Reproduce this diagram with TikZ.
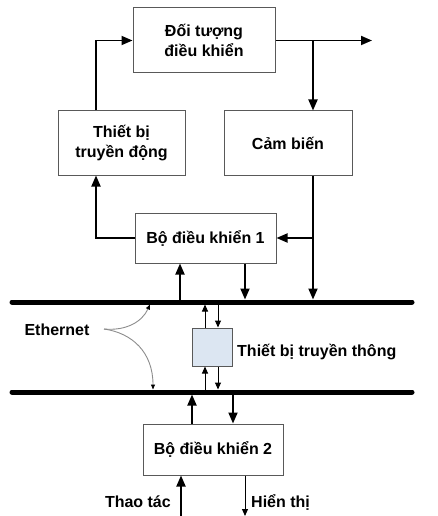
\documentclass[tikz,border=0pt]{standalone}
\usepackage{fontspec}
\setmainfont{Liberation Sans}
\usetikzlibrary{arrows.meta,calc}
\definecolor{commfill}{HTML}{DCE6F2}
\tikzset{
  blk/.style={draw=black!65,line width=1pt,rectangle,inner sep=0pt,align=center,font=\fontsize{16}{20}\selectfont\bfseries},
  conn/.style={line width=1.8pt,-{Triangle[length=11pt,width=9pt]}},
  thinconn/.style={line width=1pt,-{Triangle[length=7pt,width=6pt]}},
  bus/.style={line width=5pt,line cap=round},
  eth/.style={draw=black!45,line width=0.9pt,-{Triangle[length=5pt,width=4pt,color=black,fill=black]}},
  lbl/.style={font=\fontsize{16}{20}\selectfont\bfseries,inner sep=0pt}
}
\begin{document}
\begin{tikzpicture}[x=1pt,y=-1pt]
\useasboundingbox (0,0) rectangle (437,516);
% blocks
\node[blk,minimum width=142pt,minimum height=65pt] (obj) at (204,40.5) {Đối tượng\\điều khiển};
\node[blk,minimum width=127pt,minimum height=64pt] (act) at (121.5,143) {Thiết bị\\truyền động};
\node[blk,minimum width=128pt,minimum height=64pt] (sen) at (288,143) {Cảm biến};
\node[blk,minimum width=141pt,minimum height=50pt] (c1) at (205.5,238) {Bộ điều khiển 1};
\node[blk,fill=commfill,minimum width=40pt,minimum height=38pt] (comm) at (212,347) {};
\node[blk,minimum width=140pt,minimum height=51pt] (c2) at (213,449.5) {Bộ điều khiển 2};
% helper coordinates
\coordinate (ax) at (96,0);
\coordinate (sx) at (313,0);
\coordinate (out) at (372,40.5);
\coordinate (b1L) at (12,302);
\coordinate (b1R) at (412,302);
\coordinate (b2L) at (12,392);
\coordinate (b2R) at (412,392);
\coordinate (b1top) at (0,299.5);
\coordinate (b1bot) at (0,304.5);
\coordinate (b2top) at (0,389.5);
\coordinate (b2bot) at (0,394.5);
\coordinate (bottom) at (0,517);
% buses
\draw[bus] (b1L) -- (b1R);
\draw[bus] (b2L) -- (b2R);
% top loop
\draw[conn] (obj.east) -- (out);
\draw[conn] (obj.east -| sx) -- (sen.north -| sx);
\draw[conn] (act.north -| ax) |- (obj.west);
\draw[conn] (c1.west) -| (act.south -| ax);
\draw[conn] (sen.south -| sx) -- (b1top -| sx);
\draw[conn] (c1.east -| sx) -- (c1.east);
% controller 1 <-> bus 1
\draw[conn] ($(b1top)+(180,0)$) -- ($(c1.south -| 180,0)$);
\draw[conn] ($(c1.south -| 245,0)$) -- ($(b1top)+(245,0)$);
% comm device
\draw[thinconn] ($(comm.north -| 205,0)$) -- ($(b1bot)+(205,0)$);
\draw[thinconn] ($(b1bot)+(218,0)$) -- ($(comm.north -| 218,0)$);
\draw[thinconn] ($(b2top)+(205,0)$) -- ($(comm.south -| 205,0)$);
\draw[thinconn] ($(comm.south -| 218,0)$) -- ($(b2top)+(218,0)$);
% controller 2 <-> bus 2
\draw[conn] ($(c2.north -| 192,0)$) -- ($(b2bot)+(192,0)$);
\draw[conn] ($(b2bot)+(233,0)$) -- ($(c2.north -| 233,0)$);
% operator I/O
\draw[conn] ($(bottom)+(181,0)$) -- ($(c2.south -| 181,0)$);
\draw[thinconn] ($(c2.south -| 245,0)$) -- ($(bottom)+(245,-1)$);
% labels
\node[lbl] (eth) at (57,330) {Ethernet};
\node[lbl,anchor=west] (commlbl) at (237,352) {Thiết bị truyền thông};
\node[lbl,anchor=east] (op) at (171,502) {Thao tác};
\node[lbl,anchor=west] (disp) at (251,502) {Hiển thị};
% ethernet pointers
\coordinate (es) at (104,329);
\draw[eth] (es) .. controls (126,331) and (142,322) .. ($(b1bot)+(150,0)$);
\draw[eth] (es) .. controls (132,333) and (153,352) .. ($(b2top)+(153,0)$);
\end{tikzpicture}
\end{document}
